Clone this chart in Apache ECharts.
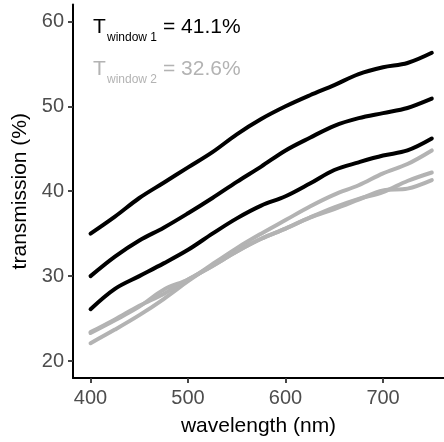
<!DOCTYPE html>
<html>
<head>
<meta charset="utf-8">
<script src="https://cdn.jsdelivr.net/npm/echarts@6/dist/echarts.min.js"></script>
<style>html,body{margin:0;padding:0;background:#fff;}#c{width:444px;height:442px;}</style>
</head>
<body>
<div id="c"></div>
<script>
const wavelengths = [400,425,450,475,500,525,550,575,600,625,650,675,700,725,750];
const window1A = [35.0,37.0,39.2,41.0,42.8,44.6,46.7,48.5,50.0,51.3,52.5,53.8,54.6,55.1,56.3];
const window1B = [30.0,32.3,34.2,35.7,37.4,39.2,41.1,42.9,44.8,46.3,47.7,48.6,49.2,49.8,50.9];
const window1C = [26.1,28.5,30.0,31.5,33.1,35.0,36.8,38.3,39.4,40.9,42.5,43.4,44.2,44.8,46.2];
const window2A = [22.1,23.7,25.4,27.3,29.4,31.4,33.3,35.0,36.6,38.2,39.6,40.7,42.1,43.2,44.8];
const window2B = [23.4,24.9,26.5,27.9,29.6,31.2,32.9,34.4,35.6,36.9,38.1,39.1,39.9,41.2,42.2];
const window2C = [23.3,24.8,26.4,28.4,29.6,31.2,32.9,34.4,35.6,36.9,37.9,39.0,40.1,40.3,41.3];
const xTicks = [400,500,600,700];
const yTicks = [20,30,40,50,60];
const labelWindow1 = ['T', 'window 1', '= 41.1%'];
const labelWindow2 = ['T', 'window 2', '= 32.6%'];

const BLACK = '#000000';
const GREY = '#b3b3b3';
const FONT = '"Liberation Sans", Arial, sans-serif';

function pairs(vals){ return wavelengths.map((w,i)=>[w, vals[i]]); }
function line(vals, color){
  return {type:'line', data:pairs(vals), showSymbol:false, smooth:0.35,
    lineStyle:{color:color, width:4, cap:'round', join:'round'}, silent:true, z: color===BLACK?3:2};
}

const chart = echarts.init(document.getElementById('c'), null, {renderer:'canvas'});
chart.setOption({
  animation:false,
  backgroundColor:'#ffffff',
  grid:{left:73, right:0, top:4.4, bottom:57.7, containLabel:false},
  xAxis:{type:'value', min:382, max:762.5,
    name:'wavelength (nm)', nameLocation:'middle', nameGap:38,
    nameTextStyle:{fontFamily:FONT, fontSize:21, color:'#000'},
    axisLine:{show:true, onZero:false, lineStyle:{color:'#000', width:2}},
    axisTick:{show:true, length:5, customValues:xTicks, lineStyle:{color:'#333', width:1.8}},
    axisLabel:{customValues:xTicks, fontFamily:FONT, fontSize:20, color:'#4d4d4d', margin:10},
    splitLine:{show:false}},
  yAxis:{type:'value', min:18, max:62,
    name:'transmission (%)', nameLocation:'middle', nameGap:42,
    nameTextStyle:{fontFamily:FONT, fontSize:21, color:'#000'},
    axisLine:{show:true, onZero:false, lineStyle:{color:'#000', width:2}},
    axisTick:{show:true, length:5, customValues:yTicks, lineStyle:{color:'#333', width:1.8}},
    axisLabel:{customValues:yTicks, fontFamily:FONT, fontSize:20, color:'#4d4d4d', margin:9},
    splitLine:{show:false}},
  series:[
    line(window2A, GREY), line(window2B, GREY), line(window2C, GREY),
    line(window1A, BLACK), line(window1B, BLACK), line(window1C, BLACK)
  ],
  graphic:[
    {type:'text', left:93, top:17, style:{text:labelWindow1[0], font:'21px '+FONT, fill:BLACK}},
    {type:'text', left:107, top:32, style:{text:labelWindow1[1], font:'12px '+FONT, fill:BLACK}},
    {type:'text', left:163, top:17, style:{text:labelWindow1[2], font:'21px '+FONT, fill:BLACK}},
    {type:'text', left:93, top:59, style:{text:labelWindow2[0], font:'21px '+FONT, fill:GREY}},
    {type:'text', left:107, top:74, style:{text:labelWindow2[1], font:'12px '+FONT, fill:GREY}},
    {type:'text', left:163, top:59, style:{text:labelWindow2[2], font:'21px '+FONT, fill:GREY}}
  ]
});
</script>
</body>
</html>
